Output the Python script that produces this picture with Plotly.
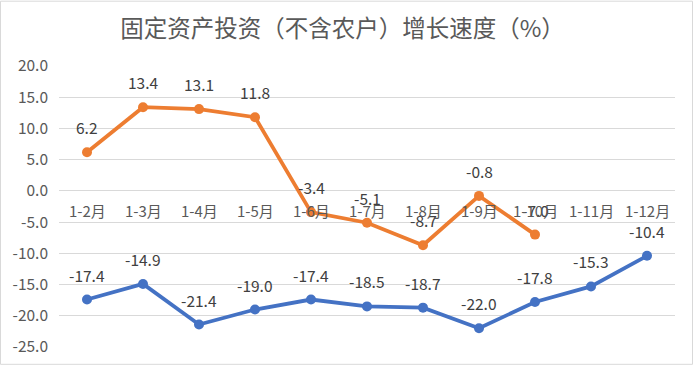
import plotly.graph_objects as go

categories = ["1-2月", "1-3月", "1-4月", "1-5月", "1-6月", "1-7月", "1-8月", "1-9月", "1-10月", "1-11月", "1-12月"]
orange_vals = [6.2, 13.4, 13.1, 11.8, -3.4, -5.1, -8.7, -0.8, -7.0, None, None]
blue_vals = [-17.4, -14.9, -21.4, -19.0, -17.4, -18.5, -18.7, -22.0, -17.8, -15.3, -10.4]
y_ticks = [20, 15, 10, 5, 0, -5, -10, -15, -20, -25]

ORANGE = "#ED7D31"
BLUE = "#4472C4"
font_fam = "Noto Sans CJK SC, Noto Sans, sans-serif"

fig = go.Figure()
for vals, col in [(blue_vals, BLUE), (orange_vals, ORANGE)]:
    fig.add_trace(go.Scatter(
        x=categories, y=vals, mode="lines+markers",
        line=dict(color=col, width=3.8),
        marker=dict(color=col, size=10),
        hoverinfo="skip", showlegend=False,
    ))

annotations = []
for vals in (orange_vals, blue_vals):
    for c, v in zip(categories, vals):
        if v is None:
            continue
        annotations.append(dict(
            x=c, y=v, xref="x", yref="y", text=f"{v:.1f}", showarrow=False,
            yanchor="middle", yshift=25,
            font=dict(family=font_fam, size=15.5, color="#404040"),
        ))
for c in categories:
    annotations.append(dict(
        x=c, y=0, xref="x", yref="y", text=c, showarrow=False,
        yanchor="middle", yshift=-20,
        font=dict(family=font_fam, size=15, color="#595959"),
    ))

fig.update_layout(
    width=694, height=368,
    margin=dict(l=59, r=19, t=66, b=18),
    paper_bgcolor="white", plot_bgcolor="white",
    title=dict(text="固定资产投资（不含农户）增长速度（%）", x=342.5 / 694, xanchor="center",
               y=1 - 29 / 368, yanchor="middle",
               font=dict(family=font_fam, size=23.5, color="#595959")),
    xaxis=dict(type="category", showticklabels=False, showgrid=False, zeroline=False,
               showline=False, range=[-0.5, 10.5]),
    yaxis=dict(range=[-25, 20], tickvals=y_ticks, ticktext=[f"{t:.1f}" for t in y_ticks],
               showgrid=True, gridcolor="#D9D9D9", gridwidth=1, zeroline=False,
               showline=False, ticks="", ticklabelstandoff=10,
               tickfont=dict(family=font_fam, size=15.5, color="#595959")),
    annotations=annotations,
    shapes=[dict(type="rect", xref="paper", yref="paper", x0=-58.5/616, x1=1 + 17.5/616,
                 y0=-17.5/284, y1=1 + 65.5/284, line=dict(color="#D9D9D9", width=1))],
)
fig.write_html("out.html", config={"displayModeBar": False},
               post_script="document.body.style.margin='0';")
